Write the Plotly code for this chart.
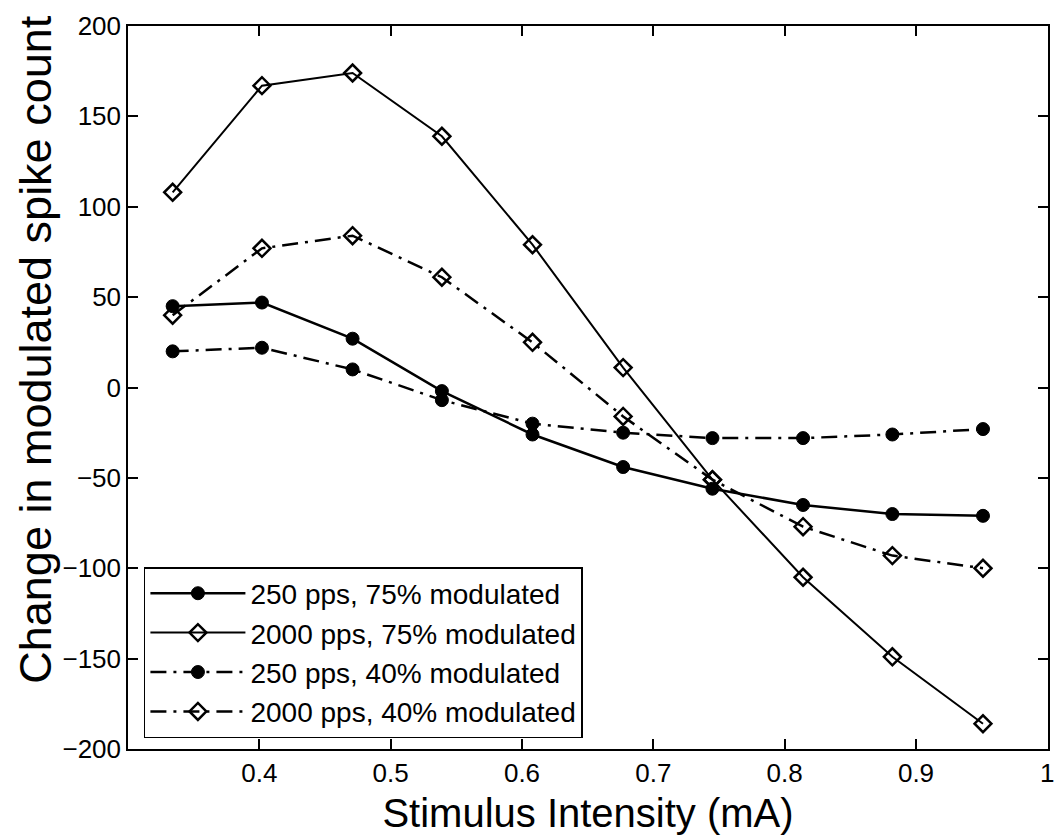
import plotly.graph_objects as go

intensity = [0.334, 0.402, 0.471, 0.539, 0.608, 0.677, 0.745, 0.814, 0.882, 0.951]
s250_75 = [45, 47, 27, -2, -26, -44, -56, -65, -70, -71]
s2000_75 = [108, 167, 174, 139, 79, 11, -51, -105, -149, -186]
s250_40 = [20, 22, 10, -7, -20, -25, -28, -28, -26, -23]
s2000_40 = [40, 77, 84, 61, 25, -16, -51, -77, -93, -100]

names = ["250 pps, 75% modulated", "2000 pps, 75% modulated",
         "250 pps, 40% modulated", "2000 pps, 40% modulated"]
x_ticks = [0.4, 0.5, 0.6, 0.7, 0.8, 0.9, 1.0]
x_ticktext = ["0.4", "0.5", "0.6", "0.7", "0.8", "0.9", "1"]
y_ticks = [-200, -150, -100, -50, 0, 50, 100, 150, 200]

DASHDOT = "16px,7px,3px,7px"
FONT = "Liberation Sans, Arial, sans-serif"

fig = go.Figure()
series = [
    (s250_75, "solid", "circle", 2.5),
    (s2000_75, "solid", "diamond-open", 2.0),
    (s250_40, DASHDOT, "circle", 2.5),
    (s2000_40, DASHDOT, "diamond-open", 2.5),
]
for (ys, dash, sym, lw), name in zip(series, names):
    if sym == "circle":
        marker = dict(symbol="circle", size=13, color="black",
                      line=dict(color="black", width=1))
    else:
        marker = dict(symbol="diamond-open", size=13, color="black",
                      line=dict(color="black", width=2.5))
    fig.add_trace(go.Scatter(
        x=intensity, y=ys, name=name, mode="lines+markers",
        line=dict(color="black", width=lw, dash=dash),
        marker=marker,
    ))

fig.update_layout(
    width=1060, height=836,
    margin=dict(l=128, r=5, t=26, b=87),
    paper_bgcolor="white", plot_bgcolor="white",
    font=dict(family=FONT, color="black", size=26),
    showlegend=True,
    legend=dict(
        x=0.0173, y=0.2517, xanchor="left", yanchor="top",
        bgcolor="white", bordercolor="black", borderwidth=1.5,
        font=dict(size=28, family=FONT, color="black"),
        itemwidth=95, tracegroupgap=0,
    ),
    annotations=[dict(
        text="Change in modulated spike count", textangle=-90,
        xref="paper", yref="paper", x=(34 - 128) / 927, y=(749 - 350) / 723,
        xanchor="center", yanchor="middle", showarrow=False,
        font=dict(size=45, family=FONT, color="black"),
    )],
)
fig.update_xaxes(
    range=[0.3, 1.0005], tickvals=x_ticks, ticktext=x_ticktext,
    showgrid=False, zeroline=False, showline=True, linecolor="black",
    linewidth=1.5, mirror="ticks", ticks="inside", ticklen=10,
    tickcolor="black", tickwidth=1.5,
    tickfont=dict(size=26, family=FONT),
    title=dict(text="Stimulus Intensity (mA)", font=dict(size=40, family=FONT),
               standoff=12),
)
fig.update_yaxes(
    range=[-200, 200], tickvals=y_ticks,
    showgrid=False, zeroline=False, showline=True, linecolor="black",
    linewidth=1.5, mirror="ticks", ticks="inside", ticklen=10,
    tickcolor="black", tickwidth=1.5,
    tickfont=dict(size=26, family=FONT),
)

fig.write_html("out.html")
